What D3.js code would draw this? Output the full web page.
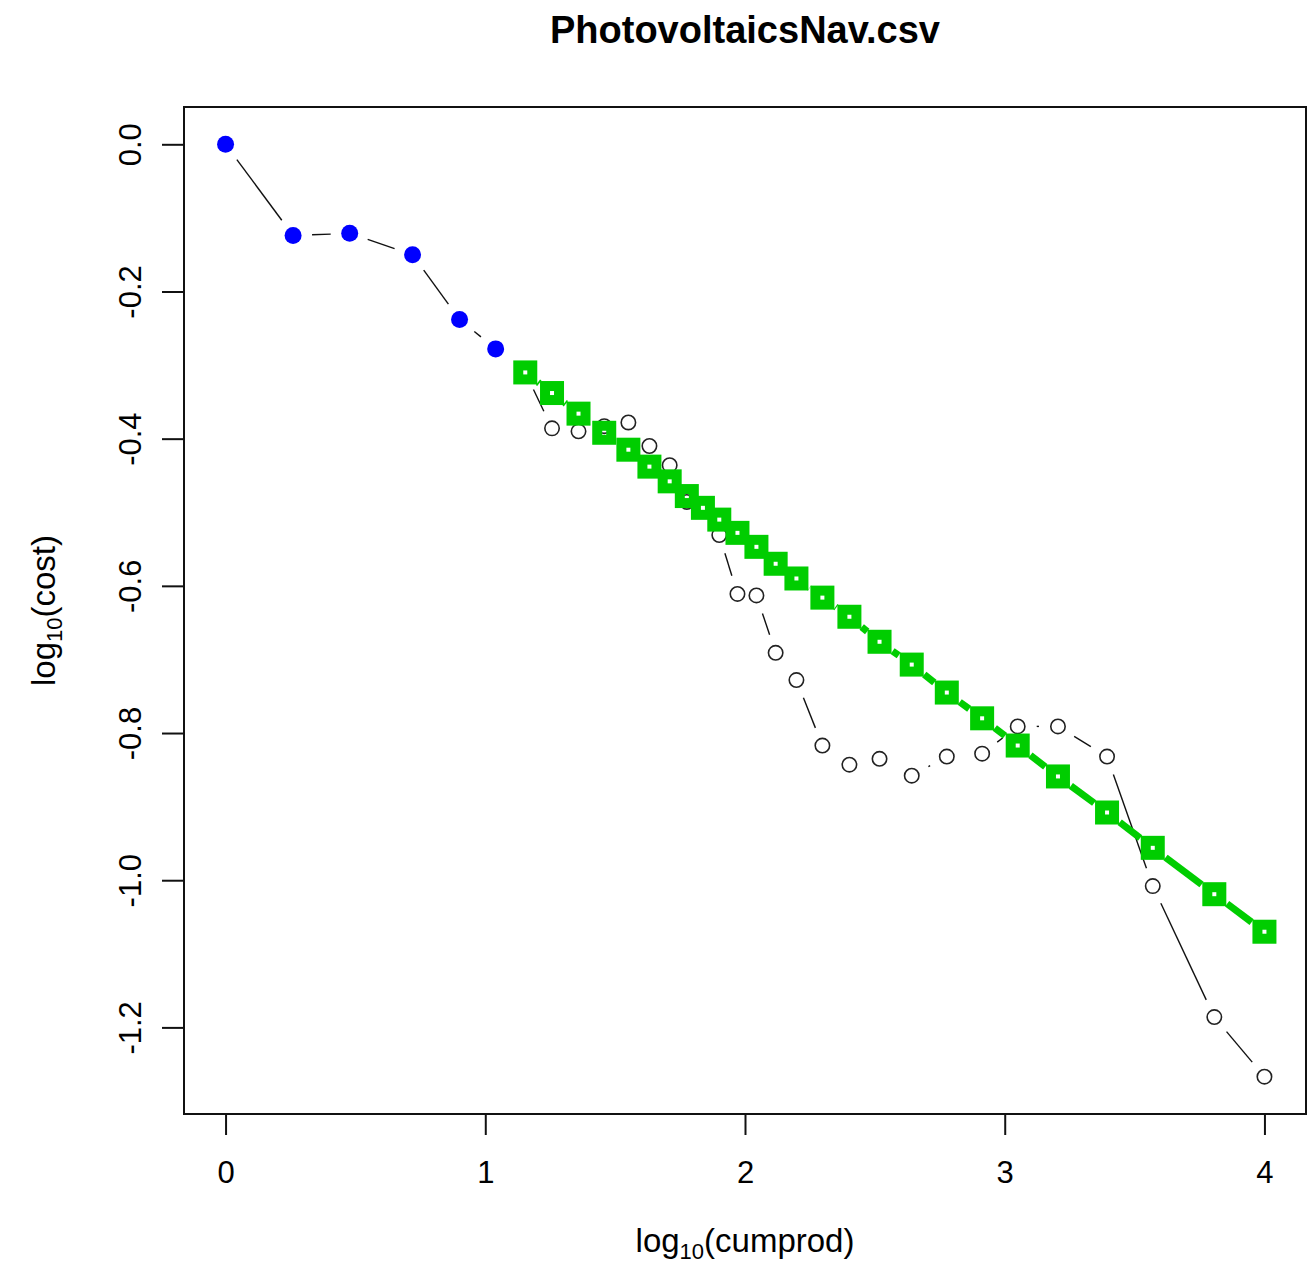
<!DOCTYPE html>
<html>
<head>
<meta charset="utf-8">
<script src="https://cdn.jsdelivr.net/npm/d3@7"></script>
<style>
  html, body { margin: 0; padding: 0; background: #fff; }
  svg { display: block; }
  text { font-family: "Liberation Sans", Arial, sans-serif; fill: #000; }
</style>
</head>
<body>
<svg id="chart" width="1315" height="1264"></svg>
<script>
// log10 cumulative production and log10 unit cost (normalised to the first year)
const logCumprod = [
  0.000, 0.260, 0.478, 0.720, 0.901, 1.040,
  1.154, 1.257, 1.359, 1.458, 1.551, 1.632, 1.710, 1.776, 1.838, 1.901,
  1.971, 2.044, 2.118, 2.198, 2.298, 2.402, 2.518, 2.642, 2.777, 2.913,
  3.050, 3.205, 3.394, 3.570, 3.807, 4.000
];
const logCost = [
  0.000, -0.124, -0.121, -0.150, -0.238, -0.278,
  -0.310, -0.386, -0.390, -0.383, -0.378, -0.410, -0.436, -0.486, -0.497, -0.531,
  -0.611, -0.613, -0.691, -0.728, -0.817, -0.843, -0.835, -0.858, -0.832, -0.828,
  -0.791, -0.791, -0.832, -1.008, -1.186, -1.267
];
// number of leading observations used to fit the model (drawn in blue)
const nFit = 6;
// forecast from the fitted experience curve, one value per later observation
const forecastCost = [
  -0.310, -0.338, -0.366, -0.392, -0.415, -0.438, -0.458, -0.478, -0.494, -0.510,
  -0.528, -0.547, -0.570, -0.590, -0.616, -0.642, -0.676, -0.707, -0.745, -0.780,
  -0.817, -0.859, -0.908, -0.956, -1.019, -1.070
];
const xTicks = [0, 1, 2, 3, 4];
const yTicks = [0, -0.2, -0.4, -0.6, -0.8, -1.0, -1.2];

const svg = d3.select("#chart");
const plot = { left: 184, right: 1306, top: 107, bottom: 1114 };

// pad the data range by 4% on each side
function padded(ext) {
  const d = (ext[1] - ext[0]) * 0.04;
  return [ext[0] - d, ext[1] + d];
}
const x = d3.scaleLinear()
  .domain(padded(d3.extent(logCumprod)))
  .range([plot.left, plot.right]);
const y = d3.scaleLinear()
  .domain(padded(d3.extent(logCost.concat(forecastCost))))
  .range([plot.bottom, plot.top]);

// connecting lines that stop short of each marker
function gappedSegments(pts, gap) {
  const segs = [];
  for (let i = 1; i < pts.length; i++) {
    const [x1, y1] = pts[i - 1], [x2, y2] = pts[i];
    const dx = x2 - x1, dy = y2 - y1, d = Math.hypot(dx, dy);
    if (d <= 2 * gap) continue;
    const ux = dx / d, uy = dy / d;
    segs.push([x1 + ux * gap, y1 + uy * gap, x2 - ux * gap, y2 - uy * gap]);
  }
  return segs;
}

const obs = logCumprod.map((v, i) => [x(v), y(logCost[i])]);
const fc = forecastCost.map((v, i) => [x(logCumprod[nFit + i]), y(v)]);

// observed series
svg.append("g").selectAll("line")
  .data(gappedSegments(obs, 19))
  .join("line")
  .attr("x1", d => d[0]).attr("y1", d => d[1])
  .attr("x2", d => d[2]).attr("y2", d => d[3])
  .attr("stroke", "#111").attr("stroke-width", 1.4);

svg.append("g").selectAll("circle")
  .data(obs.slice(nFit))
  .join("circle")
  .attr("cx", d => d[0]).attr("cy", d => d[1]).attr("r", 7.2)
  .attr("fill", "none").attr("stroke", "#222").attr("stroke-width", 1.6);

svg.append("g").selectAll("circle")
  .data(obs.slice(0, nFit))
  .join("circle")
  .attr("cx", d => d[0]).attr("cy", d => d[1]).attr("r", 8.5)
  .attr("fill", "#0000FF");

// forecast series
const green = "#00CD00";
svg.append("g").selectAll("line")
  .data(gappedSegments(fc, 16))
  .join("line")
  .attr("x1", d => d[0]).attr("y1", d => d[1])
  .attr("x2", d => d[2]).attr("y2", d => d[3])
  .attr("stroke", green).attr("stroke-width", 7);

svg.append("g").selectAll("rect")
  .data(fc)
  .join("rect")
  .attr("x", d => d[0] - 7).attr("y", d => d[1] - 7)
  .attr("width", 14).attr("height", 14)
  .attr("fill", "none").attr("stroke", green).attr("stroke-width", 10);

// frame
svg.append("rect")
  .attr("x", plot.left).attr("y", plot.top)
  .attr("width", plot.right - plot.left).attr("height", plot.bottom - plot.top)
  .attr("fill", "none").attr("stroke", "#111").attr("stroke-width", 2);

// axes
const xAxis = svg.append("g")
  .attr("transform", `translate(0,${plot.bottom})`)
  .call(d3.axisBottom(x).tickValues(xTicks).tickSize(21).tickPadding(0).tickFormat(d3.format("d")));
xAxis.select(".domain").remove();
xAxis.selectAll(".tick line").attr("stroke", "#111").attr("stroke-width", 2);
xAxis.selectAll(".tick text")
  .attr("y", 69).attr("dy", null)
  .style("font-size", "31px");

const yAxis = svg.append("g")
  .attr("transform", `translate(${plot.left},0)`)
  .call(d3.axisLeft(y).tickValues(yTicks).tickSize(22).tickFormat(d3.format(".1f")));
yAxis.select(".domain").remove();
yAxis.selectAll(".tick line").attr("stroke", "#111").attr("stroke-width", 2);
yAxis.selectAll(".tick text")
  .attr("x", null).attr("dy", null)
  .attr("text-anchor", "middle")
  .attr("transform", "translate(-43,0) rotate(-90)")
  .style("font-size", "31px")
  .text(d => d3.format(".1f")(d).replace("\u2212", "-"));

// title
svg.append("text")
  .attr("x", (plot.left + plot.right) / 2).attr("y", 43)
  .attr("text-anchor", "middle")
  .style("font-size", "38px").style("font-weight", "bold")
  .text("PhotovoltaicsNav.csv");

// axis titles with subscripted base
function logLabel(sel, inner) {
  sel.append("tspan").text("log");
  sel.append("tspan").attr("dy", 7).style("font-size", "22px").text("10");
  sel.append("tspan").attr("dy", -7).text("(" + inner + ")");
}
svg.append("text")
  .attr("x", (plot.left + plot.right) / 2).attr("y", 1252)
  .attr("text-anchor", "middle")
  .style("font-size", "33px")
  .call(logLabel, "cumprod");

svg.append("text")
  .attr("transform", `translate(55,${(plot.top + plot.bottom) / 2}) rotate(-90)`)
  .attr("text-anchor", "middle")
  .style("font-size", "33px")
  .call(logLabel, "cost");
</script>
</body>
</html>
